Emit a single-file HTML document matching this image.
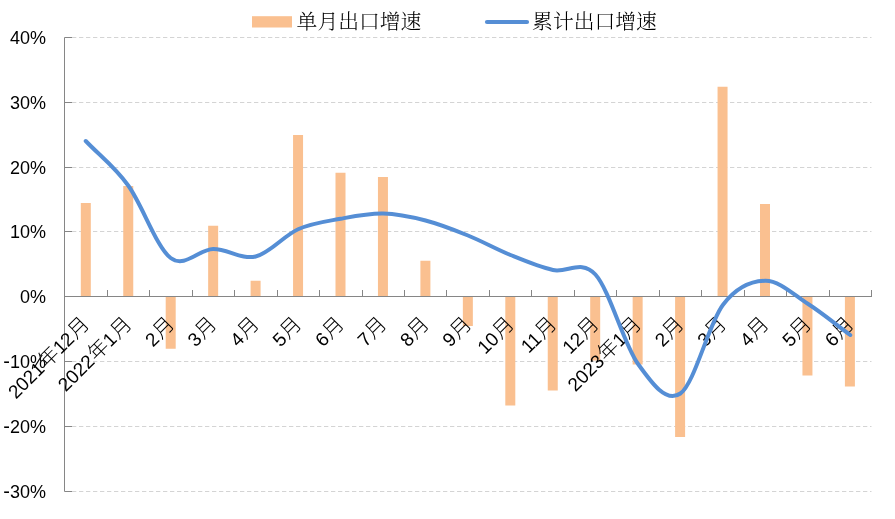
<!DOCTYPE html>
<html lang="zh"><head><meta charset="utf-8"><title>出口增速</title>
<style>html,body{margin:0;padding:0;background:#fff}svg{display:block}.ax{font-family:"Liberation Sans","Noto Sans CJK SC",sans-serif;fill:#000}.lg{font-family:"Liberation Serif","Noto Serif CJK SC",serif;fill:#000}</style></head><body>
<svg width="895" height="519" viewBox="0 0 895 519">
<rect width="895" height="519" fill="#fff"/>
<g stroke="#d4d4d4" stroke-width="1" stroke-dasharray="4.3 2.7" fill="none">
<line x1="72.0" y1="37.50" x2="871.5" y2="37.50"/>
<line x1="72.0" y1="102.50" x2="871.5" y2="102.50"/>
<line x1="72.0" y1="167.50" x2="871.5" y2="167.50"/>
<line x1="72.0" y1="231.50" x2="871.5" y2="231.50"/>
<line x1="72.0" y1="361.50" x2="871.5" y2="361.50"/>
<line x1="72.0" y1="426.50" x2="871.5" y2="426.50"/>
<line x1="72.0" y1="491.50" x2="871.5" y2="491.50"/>
</g>
<g fill="#fac090">
<rect x="80.80" y="203.00" width="10" height="93.50"/>
<rect x="123.25" y="186.00" width="10" height="110.50"/>
<rect x="165.70" y="296.50" width="10" height="52.25"/>
<rect x="208.15" y="225.75" width="10" height="70.75"/>
<rect x="250.60" y="280.75" width="10" height="15.75"/>
<rect x="293.05" y="135.00" width="10" height="161.50"/>
<rect x="335.50" y="172.75" width="10" height="123.75"/>
<rect x="377.95" y="177.00" width="10" height="119.50"/>
<rect x="420.40" y="260.75" width="10" height="35.75"/>
<rect x="462.85" y="296.50" width="10" height="29.50"/>
<rect x="505.30" y="296.50" width="10" height="109.00"/>
<rect x="547.75" y="296.50" width="10" height="94.00"/>
<rect x="590.20" y="296.50" width="10" height="64.00"/>
<rect x="632.65" y="296.50" width="10" height="68.00"/>
<rect x="675.10" y="296.50" width="10" height="140.50"/>
<rect x="717.55" y="86.75" width="10" height="209.75"/>
<rect x="760.00" y="204.00" width="10" height="92.50"/>
<rect x="802.45" y="296.50" width="10" height="79.00"/>
<rect x="844.90" y="296.50" width="10" height="90.00"/>
</g>
<g stroke="#868686" stroke-width="1" fill="none">
<line x1="64.5" y1="37.50" x2="64.5" y2="491.50"/>
<line x1="64.5" y1="37.50" x2="72.0" y2="37.50"/>
<line x1="64.5" y1="102.50" x2="72.0" y2="102.50"/>
<line x1="64.5" y1="167.50" x2="72.0" y2="167.50"/>
<line x1="64.5" y1="231.50" x2="72.0" y2="231.50"/>
<line x1="64.5" y1="296.50" x2="72.0" y2="296.50"/>
<line x1="64.5" y1="361.50" x2="72.0" y2="361.50"/>
<line x1="64.5" y1="426.50" x2="72.0" y2="426.50"/>
<line x1="64.5" y1="491.50" x2="72.0" y2="491.50"/>
<line x1="64.5" y1="296.50" x2="872.0" y2="296.50"/>
<line x1="107.50" y1="296.50" x2="107.50" y2="290.00"/>
<line x1="149.50" y1="296.50" x2="149.50" y2="290.00"/>
<line x1="192.50" y1="296.50" x2="192.50" y2="290.00"/>
<line x1="234.50" y1="296.50" x2="234.50" y2="290.00"/>
<line x1="277.50" y1="296.50" x2="277.50" y2="290.00"/>
<line x1="319.50" y1="296.50" x2="319.50" y2="290.00"/>
<line x1="362.50" y1="296.50" x2="362.50" y2="290.00"/>
<line x1="404.50" y1="296.50" x2="404.50" y2="290.00"/>
<line x1="446.50" y1="296.50" x2="446.50" y2="290.00"/>
<line x1="489.50" y1="296.50" x2="489.50" y2="290.00"/>
<line x1="531.50" y1="296.50" x2="531.50" y2="290.00"/>
<line x1="574.50" y1="296.50" x2="574.50" y2="290.00"/>
<line x1="616.50" y1="296.50" x2="616.50" y2="290.00"/>
<line x1="659.50" y1="296.50" x2="659.50" y2="290.00"/>
<line x1="701.50" y1="296.50" x2="701.50" y2="290.00"/>
<line x1="744.50" y1="296.50" x2="744.50" y2="290.00"/>
<line x1="786.50" y1="296.50" x2="786.50" y2="290.00"/>
<line x1="829.50" y1="296.50" x2="829.50" y2="290.00"/>
<line x1="871.50" y1="296.50" x2="871.50" y2="290.00"/>
</g>
<g class="ax">
<text text-anchor="end" transform="translate(90.44,325.30) rotate(-45)"><tspan font-size="19">2021</tspan><tspan font-size="20.5" font-weight="300" dx="0.5">年</tspan><tspan font-size="19">12</tspan><tspan font-size="20.5" font-weight="300" dx="0.5">月</tspan></text>
<text text-anchor="end" transform="translate(132.91,325.30) rotate(-45)"><tspan font-size="19">2022</tspan><tspan font-size="20.5" font-weight="300" dx="0.5">年</tspan><tspan font-size="19">1</tspan><tspan font-size="20.5" font-weight="300" dx="0.5">月</tspan></text>
<text text-anchor="end" transform="translate(175.38,325.30) rotate(-45)"><tspan font-size="19">2</tspan><tspan font-size="20.5" font-weight="300" dx="0.5">月</tspan></text>
<text text-anchor="end" transform="translate(217.86,325.30) rotate(-45)"><tspan font-size="19">3</tspan><tspan font-size="20.5" font-weight="300" dx="0.5">月</tspan></text>
<text text-anchor="end" transform="translate(260.33,325.30) rotate(-45)"><tspan font-size="19">4</tspan><tspan font-size="20.5" font-weight="300" dx="0.5">月</tspan></text>
<text text-anchor="end" transform="translate(302.81,325.30) rotate(-45)"><tspan font-size="19">5</tspan><tspan font-size="20.5" font-weight="300" dx="0.5">月</tspan></text>
<text text-anchor="end" transform="translate(345.28,325.30) rotate(-45)"><tspan font-size="19">6</tspan><tspan font-size="20.5" font-weight="300" dx="0.5">月</tspan></text>
<text text-anchor="end" transform="translate(387.75,325.30) rotate(-45)"><tspan font-size="19">7</tspan><tspan font-size="20.5" font-weight="300" dx="0.5">月</tspan></text>
<text text-anchor="end" transform="translate(430.23,325.30) rotate(-45)"><tspan font-size="19">8</tspan><tspan font-size="20.5" font-weight="300" dx="0.5">月</tspan></text>
<text text-anchor="end" transform="translate(472.70,325.30) rotate(-45)"><tspan font-size="19">9</tspan><tspan font-size="20.5" font-weight="300" dx="0.5">月</tspan></text>
<text text-anchor="end" transform="translate(515.17,325.30) rotate(-45)"><tspan font-size="19">10</tspan><tspan font-size="20.5" font-weight="300" dx="0.5">月</tspan></text>
<text text-anchor="end" transform="translate(557.65,325.30) rotate(-45)"><tspan font-size="19">11</tspan><tspan font-size="20.5" font-weight="300" dx="0.5">月</tspan></text>
<text text-anchor="end" transform="translate(600.12,325.30) rotate(-45)"><tspan font-size="19">12</tspan><tspan font-size="20.5" font-weight="300" dx="0.5">月</tspan></text>
<text text-anchor="end" transform="translate(642.59,325.30) rotate(-45)"><tspan font-size="19">2023</tspan><tspan font-size="20.5" font-weight="300" dx="0.5">年</tspan><tspan font-size="19">1</tspan><tspan font-size="20.5" font-weight="300" dx="0.5">月</tspan></text>
<text text-anchor="end" transform="translate(685.07,325.30) rotate(-45)"><tspan font-size="19">2</tspan><tspan font-size="20.5" font-weight="300" dx="0.5">月</tspan></text>
<text text-anchor="end" transform="translate(727.54,325.30) rotate(-45)"><tspan font-size="19">3</tspan><tspan font-size="20.5" font-weight="300" dx="0.5">月</tspan></text>
<text text-anchor="end" transform="translate(770.02,325.30) rotate(-45)"><tspan font-size="19">4</tspan><tspan font-size="20.5" font-weight="300" dx="0.5">月</tspan></text>
<text text-anchor="end" transform="translate(812.49,325.30) rotate(-45)"><tspan font-size="19">5</tspan><tspan font-size="20.5" font-weight="300" dx="0.5">月</tspan></text>
<text text-anchor="end" transform="translate(854.96,325.30) rotate(-45)"><tspan font-size="19">6</tspan><tspan font-size="20.5" font-weight="300" dx="0.5">月</tspan></text>
</g>
<g class="ax" font-size="18" text-anchor="end">
<text x="46" y="43.70">40%</text>
<text x="46" y="108.70">30%</text>
<text x="46" y="173.70">20%</text>
<text x="46" y="237.70">10%</text>
<text x="46" y="302.70">0%</text>
<text x="46" y="368.20"><tspan font-size="20">-</tspan>10%</text>
<text x="46" y="433.20"><tspan font-size="20">-</tspan>20%</text>
<text x="46" y="498.20"><tspan font-size="20">-</tspan>30%</text>
</g>
<path d="M85.74,141.00 C99.89,155.83 114.05,166.00 128.21,185.50 C142.37,205.00 156.53,247.42 170.68,258.00 C184.84,268.58 199.00,249.25 213.16,249.00 C227.32,248.75 241.47,259.79 255.63,256.50 C269.79,253.21 283.95,235.54 298.11,229.25 C312.26,222.96 326.42,221.38 340.58,218.75 C354.74,216.12 368.89,213.21 383.05,213.50 C397.21,213.79 411.37,216.83 425.53,220.50 C439.68,224.17 453.84,229.75 468.00,235.50 C482.16,241.25 496.32,249.25 510.47,255.00 C524.63,260.75 538.79,266.75 552.95,270.00 C567.11,273.25 581.26,258.88 595.42,274.50 C609.58,290.12 623.74,343.92 637.89,363.75 C652.05,383.58 666.21,403.29 680.37,393.50 C694.53,383.71 708.68,323.79 722.84,305.00 C737.00,286.21 751.16,280.96 765.32,280.75 C779.47,280.54 793.63,294.71 807.79,303.75 C821.95,312.79 836.11,324.58 850.26,335.00" fill="none" stroke="#558ed5" stroke-width="4" stroke-linecap="round" stroke-linejoin="round"/>
<rect x="252" y="16.2" width="40" height="11.3" fill="#fac090"/>
<text class="lg" x="296.6" y="28.5" font-size="20.8" font-weight="300">单月出口增速</text>
<line x1="487" y1="22" x2="527" y2="22" stroke="#558ed5" stroke-width="4.2" stroke-linecap="round"/>
<text class="lg" x="532.1" y="28.5" font-size="20.8" font-weight="300">累计出口增速</text>
</svg></body></html>
